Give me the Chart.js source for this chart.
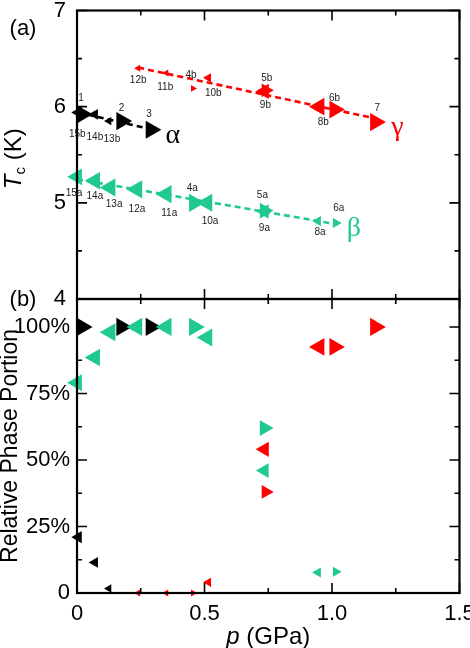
<!DOCTYPE html>
<html>
<head>
<meta charset="utf-8">
<script src="https://cdn.jsdelivr.net/npm/chart.js@4.4.0/dist/chart.umd.min.js"></script>
<style>
  html, body { margin: 0; padding: 0; background: #fff; }
  #wrap { position: relative; width: 470px; height: 648px; overflow: hidden; }
  canvas { position: absolute; left: 0; }
  #topChart { top: 0; }
  #botChart { top: 280px; }
</style>
</head>
<body>
<div id="wrap">
  <canvas id="topChart" width="470" height="320"></canvas>
  <canvas id="botChart" width="470" height="368"></canvas>
</div>
<script>
// alpha phase (black)
var nameAlpha = ['15b', '1', '14b', '13b', '2', '3'];
var pAlpha    = [0.005, 0.02, 0.07, 0.125, 0.175, 0.29];
var tcAlpha   = [5.94, 5.92, 5.92, 5.85, 5.85, 5.76];
var fracAlpha = [21, 100, 11.5, 1.7, 100, 100];
var dirAlpha  = ['dec', 'inc', 'dec', 'dec', 'inc', 'inc'];

// beta phase (green)
var nameBeta = ['15a', '14a', '13a', '12a', '11a', '4a', '10a', '9a', '5a', '8a', '6a'];
var pBeta    = [0, 0.07, 0.13, 0.235, 0.35, 0.46, 0.51, 0.735, 0.735, 0.945, 1.015];
var tcBeta   = [5.27, 5.23, 5.16, 5.14, 5.09, 5.00, 5.00, 4.91, 4.92, 4.81, 4.79];
var fracBeta = [79, 88.5, 98, 100, 100, 100, 96, 46, 62, 7.7, 8];
var dirBeta  = ['dec', 'dec', 'dec', 'dec', 'dec', 'inc', 'dec', 'dec', 'inc', 'dec', 'inc'];

// gamma phase (red)
var nameGamma = ['12b', '11b', '4b', '10b', '9b', '5b', '8b', '6b', '7'];
var pGamma    = [0.24, 0.35, 0.455, 0.515, 0.735, 0.74, 0.95, 1.01, 1.17];
var tcGamma   = [6.40, 6.35, 6.19, 6.30, 6.16, 6.17, 6.00, 5.97, 5.84];
var fracGamma = [0, 0, 0, 4, 54, 38, 92.5, 92.5, 100];
var dirGamma  = ['dec', 'dec', 'inc', 'dec', 'dec', 'inc', 'dec', 'inc', 'inc'];

var xTicks = [0, 0.5, 1.0, 1.5];

var FONT = 'Arial, "Liberation Sans", sans-serif';
var BLACK = '#000000', GREEN = '#20c98d', RED = '#ff0000';

// where the small point names sit relative to their marker (px)
var labelShift = {
  '15b': [-1, 22], '1': [-1, -16], '14b': [0, 23], '13b': [3, 18], '2': [0, -13], '3': [-2, -15],
  '12b': [0, 12], '11b': [-1, 14], '4b': [-2, -13], '10b': [5, 15], '9b': [1, 14], '5b': [1, -12],
  '8b': [4, 16], '6b': [0, -11], '7': [2, -14],
  '15a': [-3, 16], '14a': [0, 16], '13a': [4, 17], '12a': [0, 20], '11a': [3, 19], '4a': [-2, -15],
  '10a': [3, 18], '9a': [0, 17], '5a': [-2, -15], '8a': [2, 11], '6a': [3, -15]
};

function pts(xs, ys) {
  return xs.map(function (v, i) { return {x: v, y: ys[i]}; });
}

// marker size grows with the phase portion
function markerSet(color, xs, ys, frac, dir, names) {
  return {
    data: pts(xs, ys),
    names: names,
    showLine: false,
    backgroundColor: color,
    borderColor: color,
    pointStyle: 'triangle',
    pointBorderWidth: 0,
    pointRotation: function (c) { return dir[c.dataIndex] === 'inc' ? 90 : -90; },
    pointRadius: function (c) { return 4 + 6.5 * Math.sqrt(frac[c.dataIndex] / 100); },
    clip: false
  };
}

// dashed guide: least squares line over the phase's own points
function guideSet(color, xs, ys) {
  var n = xs.length, mx = 0, my = 0, sxy = 0, sxx = 0, i;
  for (i = 0; i < n; i++) { mx += xs[i] / n; my += ys[i] / n; }
  for (i = 0; i < n; i++) { sxy += (xs[i] - mx) * (ys[i] - my); sxx += (xs[i] - mx) * (xs[i] - mx); }
  var b = sxy / sxx, a = my - b * mx;
  var x0 = Math.min.apply(null, xs), x1 = Math.max.apply(null, xs);
  return {
    data: [{x: x0, y: a + b * x0}, {x: x1, y: a + b * x1}],
    showLine: true,
    borderColor: color,
    borderWidth: 2.6,
    borderDash: [6, 4],
    pointRadius: 0,
    clip: false
  };
}

var framePlugin = {
  id: 'frame',
  afterDatasetsDraw: function (chart, args, o) {
    var ctx = chart.ctx, a = chart.chartArea, x = chart.scales.x, y = chart.scales.y;
    ctx.save();
    ctx.strokeStyle = '#000';
    ctx.lineWidth = 1.6;
    ctx.beginPath();
    var v, px, len;
    for (v = x.min; v <= x.max + 1e-9; v += o.xMinor) {
      px = x.getPixelForValue(v);
      len = Math.abs(v / o.xMajor - Math.round(v / o.xMajor)) < 1e-6 ? 10 : 5;
      ctx.moveTo(px, a.top); ctx.lineTo(px, a.top + len);
      ctx.moveTo(px, a.bottom); ctx.lineTo(px, a.bottom - len);
    }
    for (v = y.min; v <= y.max + 1e-9; v += o.yMinor) {
      px = y.getPixelForValue(v);
      len = Math.abs(v / o.yMajor - Math.round(v / o.yMajor)) < 1e-6 ? 10 : 5;
      ctx.moveTo(a.left, px); ctx.lineTo(a.left + len, px);
      ctx.moveTo(a.right, px); ctx.lineTo(a.right - len, px);
    }
    ctx.stroke();
    ctx.lineWidth = 2.2;
    ctx.strokeRect(a.left, a.top, a.right - a.left, a.bottom - a.top);
    ctx.restore();
  }
};

var topLabels = {
  id: 'topLabels',
  afterDatasetsDraw: function (chart) {
    var ctx = chart.ctx;
    ctx.save();
    ctx.fillStyle = '#222';
    ctx.font = '10px ' + FONT;
    ctx.textAlign = 'center';
    ctx.textBaseline = 'middle';
    chart.data.datasets.forEach(function (ds, di) {
      if (!ds.names) return;
      var meta = chart.getDatasetMeta(di);
      meta.data.forEach(function (el, i) {
        var s = labelShift[ds.names[i]];
        ctx.fillText(ds.names[i], el.x + s[0], el.y + s[1]);
      });
      var last = meta.data[meta.data.length - 1];
      ctx.save();
      ctx.fillStyle = ds.backgroundColor;
      ctx.font = '28px "Liberation Serif", "Times New Roman", serif';
      ctx.fillText(ds.phase, last.x + ds.phaseDx, last.y + 6);
      ctx.restore();
    });
    ctx.fillStyle = '#000';
    ctx.font = '22px ' + FONT;
    ctx.fillText('(a)', 23, 29);

    // rotated y title: T_c (K)
    ctx.translate(21, chart.chartArea.top + (chart.chartArea.bottom - chart.chartArea.top) / 2 + 4);
    ctx.rotate(-Math.PI / 2);
    ctx.textAlign = 'left';
    ctx.textBaseline = 'alphabetic';
    var f1 = 'italic 24px ' + FONT, f2 = '15px ' + FONT, f3 = '24px ' + FONT;
    ctx.font = f1; var w1 = ctx.measureText('T').width;
    ctx.font = f2; var w2 = ctx.measureText('c').width;
    ctx.font = f3; var w3 = ctx.measureText(' (K)').width;
    var x0 = -(w1 + w2 + w3) / 2;
    ctx.font = f1; ctx.fillText('T', x0, 0);
    ctx.font = f2; ctx.fillText('c', x0 + w1, 4);
    ctx.font = f3; ctx.fillText(' (K)', x0 + w1 + w2, 0);
    ctx.restore();
  }
};

var botLabels = {
  id: 'botLabels',
  afterDatasetsDraw: function (chart) {
    var ctx = chart.ctx, a = chart.chartArea;
    ctx.save();
    ctx.fillStyle = '#000';
    ctx.font = '22px ' + FONT;
    ctx.textAlign = 'center';
    ctx.textBaseline = 'middle';
    ctx.fillText('(b)', 23, a.top + 1);

    // x title: p (GPa)
    ctx.textAlign = 'left';
    ctx.textBaseline = 'alphabetic';
    var fi = 'italic 24px ' + FONT, fn = '24px ' + FONT;
    ctx.font = fi; var wp = ctx.measureText('p').width;
    ctx.font = fn; var wr = ctx.measureText(' (GPa)').width;
    var cx = (a.left + a.right) / 2 - (wp + wr) / 2;
    var by = chart.height - 4;
    ctx.font = fi; ctx.fillText('p', cx, by);
    ctx.font = fn; ctx.fillText(' (GPa)', cx + wp, by);

    // y title
    ctx.translate(17, (a.top + a.bottom) / 2);
    ctx.rotate(-Math.PI / 2);
    ctx.textAlign = 'center';
    ctx.font = '23px ' + FONT;
    ctx.fillText('Relative Phase Portion', 0, 0);
    ctx.restore();
  }
};

// ---------- panel (a) ----------
var dsA = markerSet(BLACK, pAlpha, tcAlpha, fracAlpha, dirAlpha, nameAlpha);
var dsB = markerSet(GREEN, pBeta, tcBeta, fracBeta, dirBeta, nameBeta);
var dsG = markerSet(RED, pGamma, tcGamma, fracGamma, dirGamma, nameGamma);
dsA.phase = '\u03b1'; dsA.phaseDx = 22;
dsB.phase = '\u03b2'; dsB.phaseDx = 18;
dsG.phase = '\u03b3'; dsG.phaseDx = 22;

new Chart(document.getElementById('topChart'), {
  type: 'scatter',
  data: {
    datasets: [dsB, dsG, dsA,
      guideSet(GREEN, pBeta, tcBeta), guideSet(RED, pGamma, tcGamma), guideSet(BLACK, pAlpha, tcAlpha)]
  },
  options: {
    responsive: false,
    animation: false,
    layout: { padding: { top: 8, right: 9, bottom: 21, left: 0 } },
    plugins: {
      legend: { display: false },
      tooltip: { enabled: false },
      frame: { xMajor: 0.5, xMinor: 0.25, yMajor: 1, yMinor: 0.5 }
    },
    scales: {
      x: { type: 'linear', min: 0, max: 1.5, display: false },
      y: {
        type: 'linear', min: 4, max: 7,
        ticks: { stepSize: 1, color: '#000', padding: 11, font: { family: FONT, size: 22 } },
        grid: { display: false, drawTicks: false },
        border: { display: false },
        afterFit: function (s) { s.width = 77; s.paddingTop = 0; s.paddingBottom = 0; }
      }
    }
  },
  plugins: [framePlugin, topLabels]
});

// ---------- panel (b) ----------
var bsA = markerSet(BLACK, pAlpha, fracAlpha, fracAlpha, dirAlpha, null);
var bsB = markerSet(GREEN, pBeta, fracBeta, fracBeta, dirBeta, null);
var bsG = markerSet(RED, pGamma, fracGamma, fracGamma, dirGamma, null);

new Chart(document.getElementById('botChart'), {
  type: 'scatter',
  data: { datasets: [bsB, bsG, bsA] },
  options: {
    responsive: false,
    animation: false,
    layout: { padding: { top: 19, right: 9, bottom: 0, left: 0 } },
    plugins: {
      legend: { display: false },
      tooltip: { enabled: false },
      frame: { xMajor: 0.5, xMinor: 0.25, yMajor: 25, yMinor: 12.5 }
    },
    scales: {
      x: {
        type: 'linear', min: 0, max: 1.5,
        afterBuildTicks: function (s) { s.ticks = xTicks.map(function (v) { return {value: v}; }); },
        ticks: {
          color: '#000', padding: 8, maxRotation: 0, autoSkip: false,
          font: { family: FONT, size: 22 },
          callback: function (v) { return v === 0 ? '0' : v.toFixed(1); }
        },
        grid: { display: false, drawTicks: false },
        border: { display: false },
        afterFit: function (s) { s.height = 55; s.paddingLeft = 0; s.paddingRight = 0; }
      },
      y: {
        type: 'linear', min: 0, max: 110.5,
        ticks: {
          stepSize: 25, includeBounds: false, color: '#000', padding: 7,
          font: { family: FONT, size: 22 },
          callback: function (v) { return v === 0 ? '0' : v + '%'; }
        },
        grid: { display: false, drawTicks: false },
        border: { display: false },
        afterFit: function (s) { s.width = 77; s.paddingTop = 0; s.paddingBottom = 0; }
      }
    }
  },
  plugins: [framePlugin, botLabels]
});
</script>
</body>
</html>
